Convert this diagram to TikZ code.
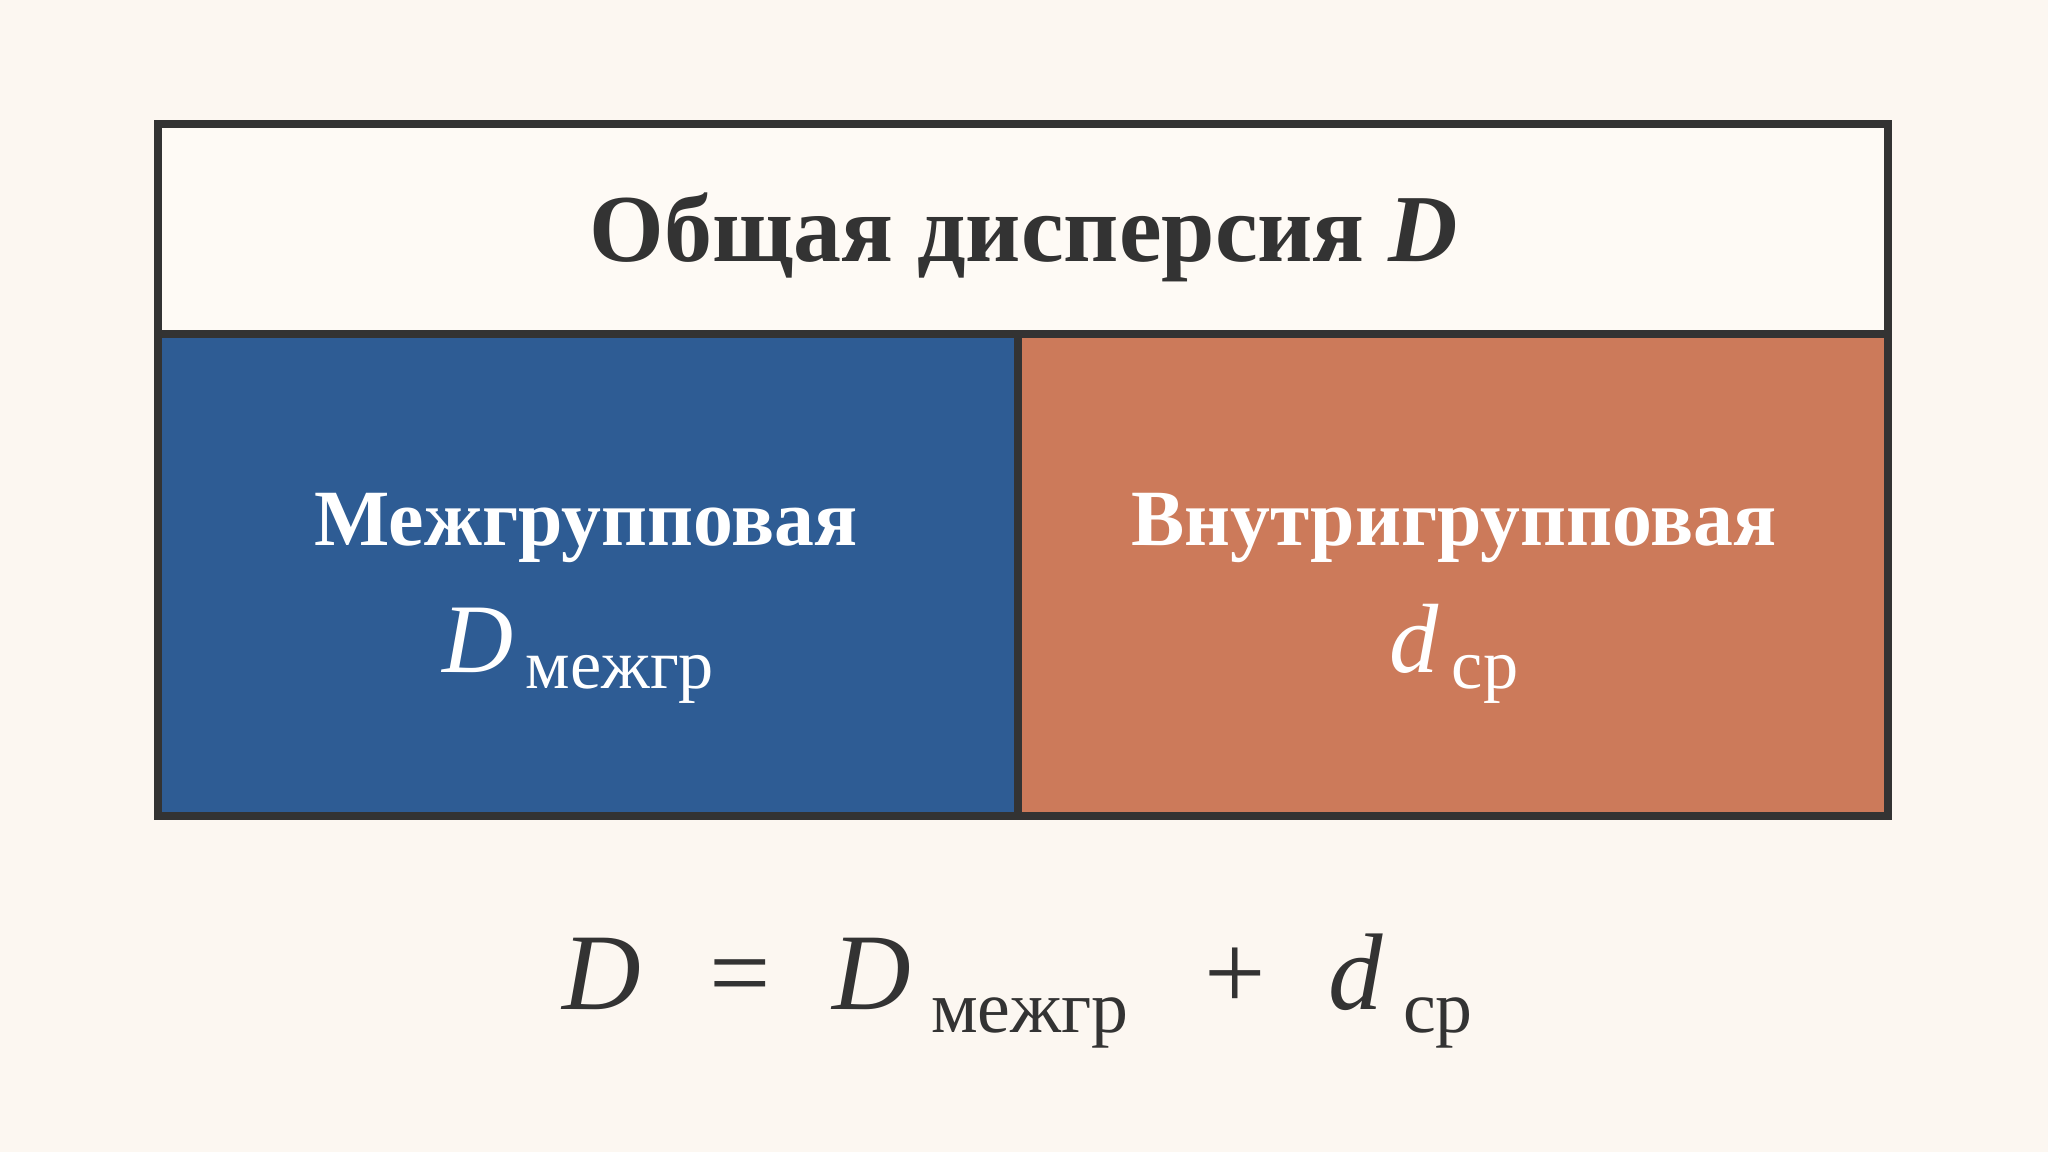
\documentclass[tikz,border=0pt]{standalone}
\usepackage{fontspec}
\setmainfont{Liberation Serif}
\usepackage{tikz}
\usetikzlibrary{positioning}
\definecolor{bgcream}{HTML}{FCF7F1}
\definecolor{titlefill}{HTML}{FEFAF5}
\definecolor{boxline}{HTML}{333333}
\definecolor{inktext}{HTML}{333333}
\definecolor{grpblue}{HTML}{2E5C94}
\definecolor{grporange}{HTML}{CC7A5A}
\newcommand{\varlow}[3]{\textit{#1}\hspace{0.18em}\raisebox{-#3}{#2}}
\tikzset{
    panelline/.style={draw=boxline, line width=0.8mm},
    titletext/.style={inner sep=0pt, anchor=base, text=inktext, font=\fontsize{27.3}{32}\selectfont\bfseries},
    grouptext/.style={inner sep=0pt, anchor=base, text=white, font=\fontsize{22.7}{28}\selectfont\bfseries},
    groupvar/.style={inner sep=0pt, anchor=base, text=white, font=\fontsize{20}{24}\selectfont},
    eqterm/.style={inner sep=0pt, anchor=base west, text=inktext, font=\fontsize{31}{36}\selectfont}
}

\begin{document}
\begin{tikzpicture}[x=0.1mm, y=-0.1mm]
        \fill[bgcream] (0,0) rectangle (2048,1152);
        \useasboundingbox (0,0) rectangle (2048,1152);
        % panels
        \fill[titlefill] (158,124) rectangle (1888,334);
        \fill[grpblue] (158,334) rectangle (1018,816);
        \fill[grporange] (1018,334) rectangle (1888,816);
        \draw[panelline] (158,124) rectangle (1888,816);
        \draw[panelline] (158,334) -- (1888,334);
        \draw[panelline] (1018,334) -- (1018,816);
        % texts
        \node[titletext] (total) at (1024,262) {Общая дисперсия \textit{D}};
        \node[grouptext] (between) at (586,546) {Межгрупповая};
        \node[groupvar] (betweenvar) at (578,673) {\varlow{\fontsize{28}{32}\selectfont D}{межгр}{4.3pt}};
        \node[grouptext] (within) at (1454,546) {Внутригрупповая};
        \node[groupvar] (withinvar) at (1454,673) {\varlow{\fontsize{28}{32}\selectfont d}{ср}{4.3pt}};
        % equation
        \node[eqterm] (eqtotal) at (562,1010) {\textit{D}};
        \node[eqterm] (eqequal) at (709,1010) {=};
        \node[eqterm] (eqbetween) at (832,1010) {\varlow{D}{\fontsize{21}{24}\selectfont межгр}{6.3pt}};
        \node[eqterm] (eqplus) at (1204,1010) {+};
        \node[eqterm] (eqwithin) at (1328,1010) {\varlow{d}{\fontsize{21}{24}\selectfont ср}{6.3pt}};
    \end{tikzpicture}
\end{document}
